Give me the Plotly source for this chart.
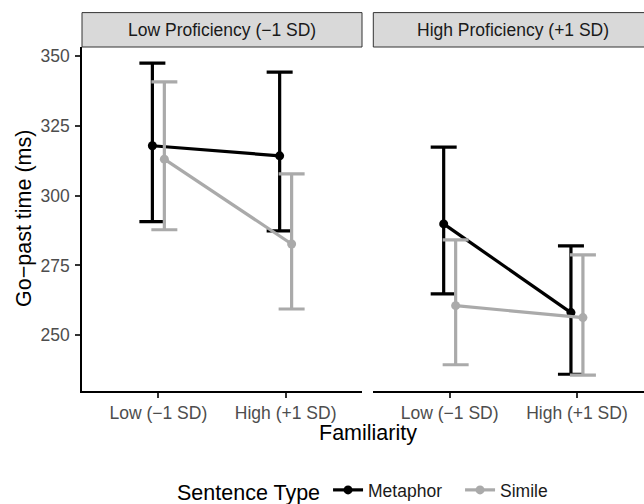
import plotly.graph_objects as go

# ---- data ----
familiarity = ["Low (−1 SD)", "High (+1 SD)"]
panels = ["Low Proficiency (−1 SD)", "High Proficiency (+1 SD)"]
series_names = ["Metaphor", "Simile"]
series_colors = ["#000000", "#AAAAAA"]

metaphor_lowprof_mean = [317.9, 314.3]
metaphor_lowprof_upper = [347.5, 344.3]
metaphor_lowprof_lower = [290.7, 287.4]

simile_lowprof_mean = [313.1, 282.7]
simile_lowprof_upper = [340.8, 307.8]
simile_lowprof_lower = [287.8, 259.4]

metaphor_highprof_mean = [289.9, 258.1]
metaphor_highprof_upper = [317.4, 282.0]
metaphor_highprof_lower = [264.8, 236.0]

simile_highprof_mean = [260.6, 256.3]
simile_highprof_upper = [284.2, 278.8]
simile_highprof_lower = [239.4, 235.7]

y_ticks = [250, 275, 300, 325, 350]

panel_data = [
    [(metaphor_lowprof_mean, metaphor_lowprof_upper, metaphor_lowprof_lower),
     (simile_lowprof_mean, simile_lowprof_upper, simile_lowprof_lower)],
    [(metaphor_highprof_mean, metaphor_highprof_upper, metaphor_highprof_lower),
     (simile_highprof_mean, simile_highprof_upper, simile_highprof_lower)],
]

dodge = [-0.047, 0.047]
cat_pos = [1, 2]

fig = go.Figure()
for p, pdata in enumerate(panel_data):
    xa = "x" if p == 0 else "x2"
    for s, (mean, up, lo) in enumerate(pdata):
        xs = [c + dodge[s] for c in cat_pos]
        fig.add_trace(go.Scatter(
            x=xs, y=mean, xaxis=xa, yaxis="y",
            mode="lines+markers",
            name=series_names[s], showlegend=(p == 0), legendgroup=series_names[s],
            line=dict(color=series_colors[s], width=3.2),
            marker=dict(color=series_colors[s], size=9),
            error_y=dict(type="data", symmetric=False,
                         array=[u - m for u, m in zip(up, mean)],
                         arrayminus=[m - l for m, l in zip(mean, lo)],
                         color=series_colors[s], thickness=3.2, width=13),
        ))

W, H = 644, 504
ml, mr, mt, mb = 82, 0, 47, 113
pw = W - ml - mr
ph = H - mt - mb
left_dom = [0, (362 - ml) / pw]
right_dom = [(373.3 - ml) / pw, 1]
ppu = (362 - ml) / 2.2
right_max = 0.4 + (W - 373.3) / ppu
right_full_end = 373.3 + 2.2 * ppu  # un-cropped panel end (px)

FONT = "Liberation Sans, Arial, sans-serif"
tick_font = dict(family=FONT, size=17.5, color="#4D4D4D")
title_font = dict(family=FONT, size=21.5, color="#000000")

xcommon = dict(tickvals=cat_pos, ticktext=familiarity, showgrid=False, zeroline=False,
               showline=True, linecolor="#000000", linewidth=1.5,
               ticks="outside", ticklen=5, tickwidth=1.5, tickcolor="#333333",
               tickfont=tick_font, anchor="y")

fig.update_layout(
    width=W, height=H,
    margin=dict(l=ml, r=mr, t=mt, b=mb, autoexpand=False),
    plot_bgcolor="white", paper_bgcolor="white",
    font=dict(family=FONT),
    xaxis=dict(domain=left_dom, range=[0.4, 2.6], **xcommon),
    xaxis2=dict(domain=right_dom, range=[0.4, right_max], **xcommon),
    yaxis=dict(range=[230, 353.3], tickvals=y_ticks, showgrid=False, zeroline=False,
               showline=True, linecolor="#000000", linewidth=1.5,
               ticks="outside", ticklen=5, tickwidth=1.5, tickcolor="#333333",
               tickfont=tick_font, anchor="x", ticklabelstandoff=2),
    legend=dict(orientation="h", x=(384 - ml) / pw, xanchor="center",
                y=-(491 - (H - mb)) / ph, yanchor="middle",
                title=dict(text="Sentence Type", font=title_font, side="left"),
                font=dict(family=FONT, size=17.5, color="#1A1A1A"),
                itemwidth=30, entrywidth=87, entrywidthmode="pixels",
                bgcolor="rgba(0,0,0,0)"),
)

# strips
strip_y0 = 1.0
strip_y1 = 1 + (46.7 - 12.3) / ph
for p, dom in enumerate([left_dom, right_dom]):
    fig.add_shape(type="rect", xref="paper", yref="paper",
                  x0=dom[0], x1=dom[1] + (0.01 if p == 1 else 0), y0=strip_y0, y1=strip_y1,
                  fillcolor="#D9D9D9", line=dict(color="#333333", width=1), layer="above")
left_center = (left_dom[0] + left_dom[1]) / 2
right_center = ((373.3 + right_full_end) / 2 - ml) / pw
for p, cx in enumerate([left_center, right_center]):
    fig.add_annotation(text=panels[p], xref="paper", yref="paper",
                       x=cx, y=1 + (46.7 - 29.5) / ph, xanchor="center", yanchor="middle",
                       showarrow=False,
                       font=dict(family=FONT, size=17.5, color="#1A1A1A"))

# axis titles
fig.add_annotation(text="Familiarity", xref="paper", yref="paper",
                   x=(368 - ml) / pw, y=-(433 - (H - mb)) / ph,
                   xanchor="center", yanchor="middle", showarrow=False, font=title_font)
fig.add_annotation(text="Go−past time (ms)", xref="paper", yref="paper",
                   x=(24 - ml) / pw, y=0.5, textangle=-90, xanchor="center", yanchor="middle",
                   showarrow=False, font=title_font)

fig.write_html("out.html", config={"displayModeBar": False},
               post_script="document.body.style.margin='0px';")
